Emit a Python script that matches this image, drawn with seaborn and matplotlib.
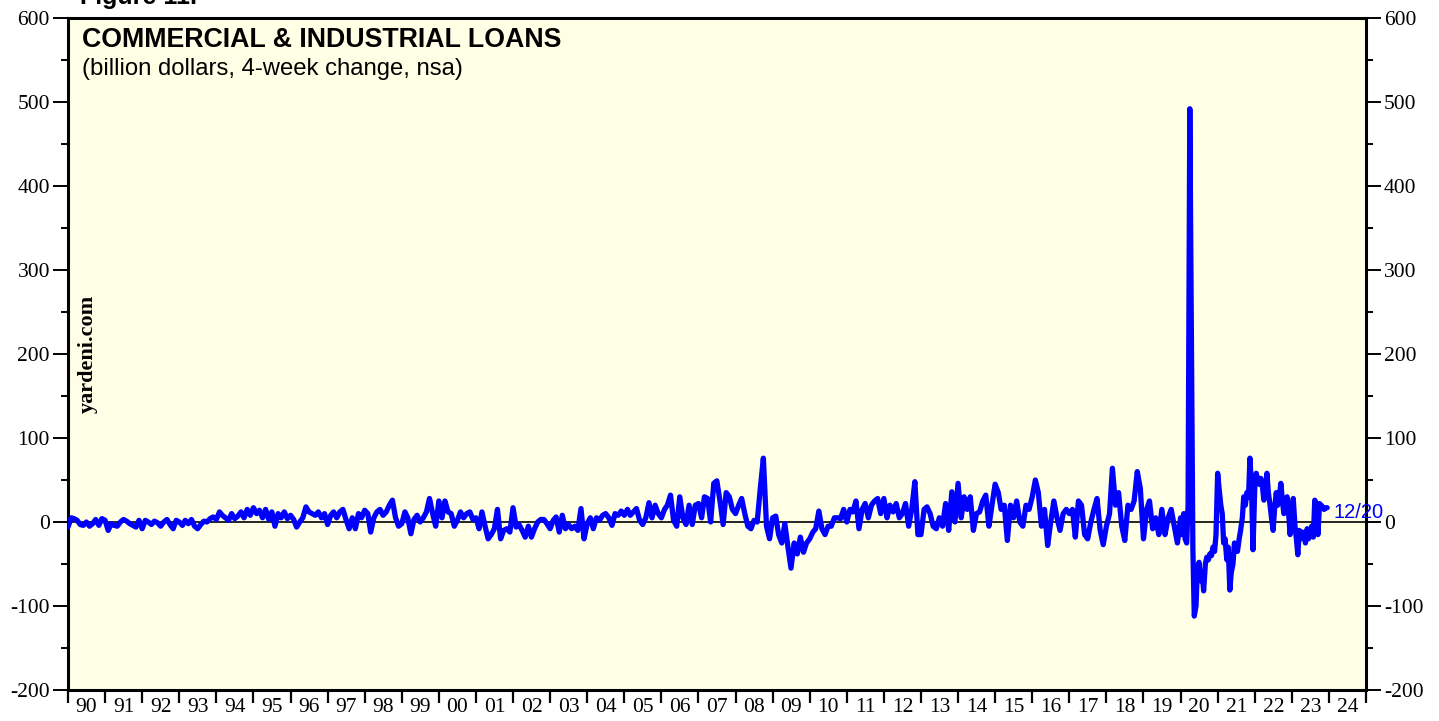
"""
plot.py
-------
C&I loans, 4-week change (billion dollars, nsa), weekly chart recreated
with monthly / semi-monthly readings.
"""

import numpy as np
import pandas as pd
import matplotlib.pyplot as plt
import seaborn as sns

# ── Data ──────────────────────────────────────────────────
# monthly values, Jan 1990 .. Dec 1999
ci_1990s = [
    -6, 5, 4, 2, -3, -4, 0, -5, -2, 3, -4, 4,
    2, -10, -2, -4, -5, 0, 3, 1, -2, -4, -6, 2,
    -8, 2, 0, -3, 1, -1, -5, 0, 3, -3, -8, 2,
    0, -4, 2, -2, 3, -5, -8, -3, 1, 0, 4, 6,
    3, 12, 8, 5, 2, 10, 4, 7, 12, 5, 15, 8,
    17, 10, 14, 5, 15, 3, 12, -5, 10, 5, 12, 4,
    8, 3, -6, 0, 5, 18, 12, 10, 8, 12, 5, 10,
    -3, 8, 12, 5, 12, 15, 3, -8, 5, -8, 10, 5,
    14, 10, -12, 5, 12, 15, 8, 12, 20, 26, 5, -5,
    -2, 12, 5, -14, 3, 8, 0, 5, 12, 28, 10, -5,
]
# monthly values, Jan 2000 .. Dec 2009
ci_2000s = [
    25, 5, 25, 12, 10, -5, 2, 12, 5, 10, 12, 3,
    5, -8, 12, -5, -20, -15, -8, 15, -20, -10, -8, -12,
    17, -6, -3, -10, -18, -5, -18, -8, 0, 3, 3, -2,
    -8, 2, 6, -12, 8, -8, -3, -8, -5, -10, 16, -20,
    -2, 5, -8, 5, 2, 8, 10, 5, -4, 10, 8, 13,
    8, 15, 8, 12, 16, 2, -3, 5, 23, 5, 20, 10,
    5, 15, 20, 32, 2, -5, 30, 5, -3, 20, -3, 20,
    22, 5, 30, 28, 0, 46, 49, 25, -3, 35, 30, 15,
    10, 20, 28, 10, -5, -8, 2, 0, 40, 76, -5, -20,
    5, 7, -15, -25, -2, -30, -55, -25, -38, -18, -36, -25,
]
# monthly values, Jan 2010 .. Dec 2019
ci_2010s = [
    -20, -12, -8, 13, -8, -15, -5, -5, 5, 5, 4, 15,
    0, 15, 12, 25, -8, 15, 22, 5, 20, 25, 28, 10,
    28, 5, 20, 12, 22, 5, 10, 22, -5, 15, 48, -15,
    -15, 15, 18, 10, -5, -8, 5, -5, 22, -10, 36, 0,
    46, 5, 30, 15, 30, -10, 10, 12, 25, 32, -5, 20,
    45, 35, 15, 20, -22, 20, 5, 25, 0, -5, 20, 15,
    30, 50, 35, -5, 15, -28, 0, 25, 5, -10, 10, 15,
    10, 15, -18, 25, 20, -15, -20, 0, 15, 28, -10, -27,
    -5, 10, 64, 20, 35, -5, -22, 20, 15, 25, 60, 40,
    -20, 15, 25, -8, 5, -15, 15, -15, 5, 15, -5, -25,
]
# semi-monthly values (1st & 15th), Jan 2020 .. Dec 2023
ci_2020s = [
    5, -15, 10, -20, -25, 20, 492, 248, -30, -112, -100, -55,
    -48, -70, -60, -82, -50, -42, -45, -38, -40, -30, -35, -15,
    58, 40, 20, 10, -25, -20, -45, -30, -81, -60, -50, -25,
    -30, -35, -20, -10, 5, 30, 20, 35, 30, 76, 40, -33,
    40, 58, 50, 45, 52, 45, 26, 40, 58, 35, 20, 5,
    -10, 15, 35, 20, 30, 46, 25, 10, 20, 30, 10, -15,
    5, 28, -5, -20, -39, -10, -20, -12, -15, -25, -8, -20,
    -15, -5, -18, 26, 20, -15, 22, 20, 18, 15, 17, 17,
]

LAST_LABEL = "12/20"
YEAR_LABELS = [f"{y % 100:02d}" for y in range(1990, 2025)]

# ── Build the series ──────────────────────────────────────
d_month = pd.date_range("1990-01-01", "2019-12-01", freq="MS")
d_semi = pd.date_range("2020-01-01", "2023-12-15", freq="SMS")
dates = d_month.append(d_semi)
values = ci_1990s + ci_2000s + ci_2010s + ci_2020s


def _dec_year(d):
    return d.year + (d.dayofyear - 1) / 365.25


df = pd.DataFrame({"t": _dec_year(dates), "chg": values})

# ── Style ─────────────────────────────────────────────────
sns.set_theme(style="white")
plt.rcParams["font.family"] = ["Liberation Serif", "DejaVu Serif"]
plt.rcParams["text.color"] = "black"
plt.rcParams["axes.unicode_minus"] = False
BLUE = "#0000FF"
BG = "#FFFFE5"
SANS = ["Liberation Sans", "DejaVu Sans"]

fig = plt.figure(figsize=(14.39, 7.21), dpi=100)
ax = fig.add_axes([68 / 1439, 1 - 690 / 721, 1298 / 1439, 672 / 721])
ax.set_facecolor(BG)

ax.axhline(0, color="black", linewidth=1.2, zorder=2)
sns.lineplot(data=df, x="t", y="chg", ax=ax, color=BLUE, linewidth=3.8,
             estimator=None, sort=False, zorder=3)

ax.set_xlim(1990, 2025)
ax.set_ylim(-200, 600)
ax.set_xlabel("")
ax.set_ylabel("")

# y axis: both sides, ticks outward
ax.set_yticks(np.arange(-200, 601, 100))
ax.set_yticks(np.arange(-150, 600, 100), minor=True)
ax.tick_params(axis="y", which="both", direction="out", left=True, right=True,
               labelleft=True, labelright=True, labelsize=15.5,
               colors="black")
ax.tick_params(axis="y", which="major", length=11, width=1.4, pad=2)
ax.tick_params(axis="y", which="minor", length=5, width=1.4)

# x axis: ticks at year boundaries, labels in the middle of the year
ax.set_xticks(np.arange(1990, 2026))
ax.set_xticklabels([])
ax.set_xticks(np.arange(1990.5, 2025), minor=True)
ax.set_xticklabels(YEAR_LABELS, minor=True)
ax.tick_params(axis="x", which="major", direction="out", bottom=True,
               length=9, width=1.6, colors="black")
ax.tick_params(axis="x", which="minor", bottom=True, length=0, pad=6,
               labelsize=15.5, colors="black")

for side in ["left", "right", "top", "bottom"]:
    ax.spines[side].set_visible(True)
    ax.spines[side].set_color("black")
    ax.spines[side].set_linewidth(2.2)

# ── Texts ─────────────────────────────────────────────────
fig.text(80 / 1439, 1 - 4 / 721, "Figure 11.", family=SANS, fontsize=18,
         fontweight="bold", va="baseline")
fig.text(82 / 1439, 1 - 47 / 721, "COMMERCIAL & INDUSTRIAL LOANS",
         family=SANS, fontsize=19.3, fontweight="bold", va="baseline")
fig.text(82 / 1439, 1 - 75 / 721, "(billion dollars, 4-week change, nsa)",
         family=SANS, fontsize=17.2, va="baseline")
fig.text(88 / 1439, 1 - 354 / 721, "yardeni.com", fontsize=16,
         fontweight="bold", rotation=90, ha="center", va="center")
ax.text(2024.12, 11, LAST_LABEL, color=BLUE, family=SANS, fontsize=14.5,
        va="center", ha="left", clip_on=False)

fig.savefig("out.png", dpi=100)
